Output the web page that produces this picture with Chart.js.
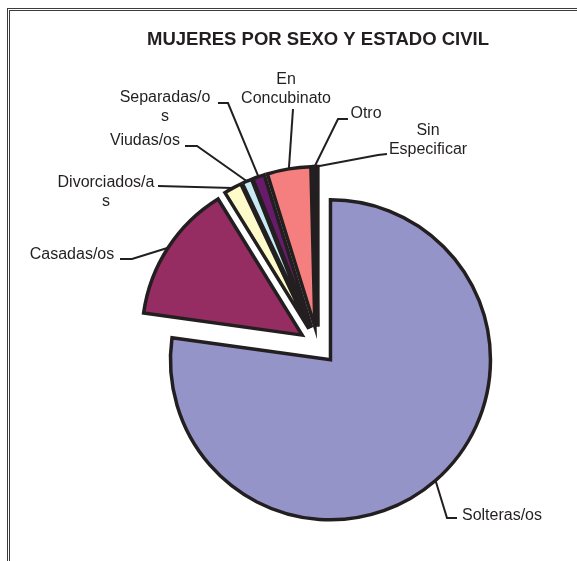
<!DOCTYPE html>
<html>
<head>
<meta charset="utf-8">
<title>Mujeres por sexo y estado civil</title>
<script src="https://cdn.jsdelivr.net/npm/chart.js@4.4.1/dist/chart.umd.min.js"></script>
<style>
    html, body { margin: 0; padding: 0; background: #fff; overflow: hidden; }
    #wrap { position: relative; width: 577px; height: 561px; overflow: hidden; }
    #frame { position: absolute; left: 7px; top: 8px; width: 620px; height: 620px;
             border-left: 3px double #3c3c3c; border-top: 3px double #3c3c3c; }
    #chart { position: absolute; left: 0; top: 0; }
</style>
</head>
<body>
<div id="wrap">
    <div id="frame"></div>
    <canvas id="chart" width="577" height="660"></canvas>
</div>
<script>
// categories (as Excel wrapped them) and share of each, in %
const categories = [
    ['Solteras/os'],
    ['Casadas/os'],
    ['Divorciados/a', 's'],
    ['Viudas/os'],
    ['Separadas/o', 's'],
    ['En', 'Concubinato'],
    ['Otro'],
    ['Sin', 'Especificar']
];
const percentages = [77.2, 14.0, 1.8, 1.0, 1.2, 4.4, 0.2, 0.2];
const sliceColors = ['#9494c8', '#962d62', '#fdfbc9', '#c8eaf2', '#681b6a', '#f57f7f', '#0066cc', '#ccccff'];

const INK = '#231f20';
const EXPLODE = 19;     // every slice pulled out from the centre
const LABEL_FONT = '16px "Liberation Sans", Arial, sans-serif';
const LINE_H = 18.5;

// where each data label sits and how its leader line bends
const labelLayout = [
    { x: 502, y: 516, bend: [447, 518], end: [457, 518] },
    { x: 72,  y: 255, bend: [132, 259], end: [120, 259] },
    { x: 106, y: 183, bend: null,       end: [158, 186] },
    { x: 145, y: 141, bend: [197, 146], end: [185, 146] },
    { x: 165, y: 98,  bend: [228, 103], end: [218, 103] },
    { x: 286, y: 80,  bend: null,       end: [293, 109] },
    { x: 366, y: 114, bend: [338, 119], end: [348, 119] },
    { x: 428, y: 131, bend: [378, 155], end: [387, 154] }
];

// move each arc's centre out along its bisector (Excel style explosion)
const explodePlugin = {
    id: 'explode',
    beforeDatasetsDraw(chart) {
        const a = chart.chartArea;
        const cx = (a.left + a.right) / 2;
        const cy = (a.top + a.bottom) / 2;
        chart.getDatasetMeta(0).data.forEach(function(arc) {
            const mid = (arc.startAngle + arc.endAngle) / 2;
            arc.x = cx + Math.cos(mid) * EXPLODE;
            arc.y = cy + Math.sin(mid) * EXPLODE;
        });
    }
};

// data labels with leader lines
const labelPlugin = {
    id: 'pieLabels',
    afterDatasetsDraw(chart) {
        const ctx = chart.ctx;
        const arcs = chart.getDatasetMeta(0).data;
        ctx.save();
        ctx.strokeStyle = INK;
        ctx.lineWidth = 2;
        ctx.lineJoin = 'miter';
        arcs.forEach(function(arc, i) {
            const lay = labelLayout[i];
            const mid = (arc.startAngle + arc.endAngle) / 2;
            const px = arc.x + Math.cos(mid) * arc.outerRadius;
            const py = arc.y + Math.sin(mid) * arc.outerRadius;
            ctx.beginPath();
            ctx.moveTo(px, py);
            if (lay.bend) ctx.lineTo(lay.bend[0], lay.bend[1]);
            ctx.lineTo(lay.end[0], lay.end[1]);
            ctx.stroke();
        });
        ctx.fillStyle = INK;
        ctx.font = LABEL_FONT;
        ctx.textAlign = 'center';
        ctx.textBaseline = 'middle';
        categories.forEach(function(lines, i) {
            const lay = labelLayout[i];
            lines.forEach(function(line, k) {
                ctx.fillText(line, lay.x, lay.y + k * LINE_H);
            });
        });
        ctx.restore();
    }
};

new Chart(document.getElementById('chart'), {
    type: 'pie',
    data: {
        labels: categories.map(function(l) { return l.join(''); }),
        datasets: [{
            data: percentages,
            backgroundColor: sliceColors,
            borderColor: INK,
            borderWidth: 3.5,
            borderJoinStyle: 'miter'
        }]
    },
    options: {
        responsive: false,
        animation: false,
        events: [],
        radius: 160,
        layout: { padding: { top: 28.7, left: 59, right: 0, bottom: 19.9 } },
        plugins: {
            legend: { display: false },
            tooltip: { enabled: false },
            title: {
                display: true,
                text: 'MUJERES POR SEXO Y ESTADO CIVIL',
                color: INK,
                font: { family: '"Liberation Sans", Arial, sans-serif', size: 18.5, weight: 'bold' },
                padding: { top: 0, bottom: 0 }
            }
        }
    },
    plugins: [explodePlugin, labelPlugin]
});
</script>
</body>
</html>
